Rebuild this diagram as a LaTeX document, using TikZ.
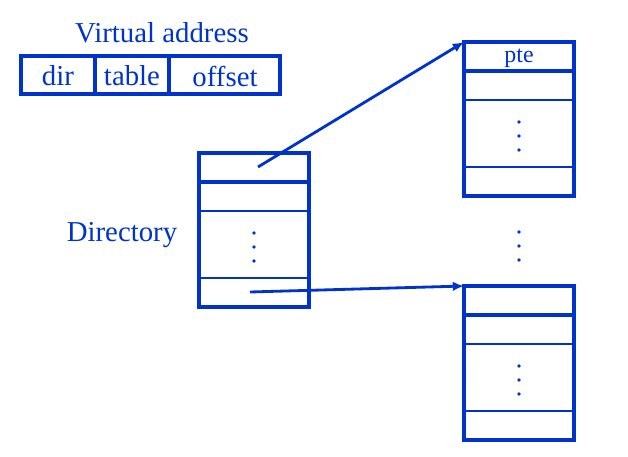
\documentclass[tikz,border=0pt]{standalone}
\usepackage{fontspec}
\setmainfont{Liberation Serif}
\usetikzlibrary{calc,arrows.meta}
\definecolor{slideblue}{RGB}{0,51,204}
\tikzset{
	boxline/.style={line width=2.8pt, draw=slideblue},
	rowline/.style={line width=1.8pt, draw=slideblue},
	txt/.style={text=slideblue, inner sep=0pt, font=\fontsize{20.5}{24}\selectfont},
	ptr/.style={line width=2pt, draw=slideblue, -{Latex[length=2.8mm,width=2.4mm]}}
}
\def\pagetable(#1,#2)#3{
	\coordinate (#3) at (#1,#2);
	\draw[boxline] (#3) rectangle ++(110,154);
	\draw[boxline] ($(#3)+(0,29)$) -- ++(110,0);
	\draw[rowline] ($(#3)+(0,58)$) -- ++(110,0);
	\draw[rowline] ($(#3)+(0,125)$) -- ++(110,0);
	\foreach \d in {80,94,108} \fill[slideblue] ($(#3)+(55,\d)$) circle (0.45mm);
}

\begin{document}
\begin{tikzpicture}[x=0.025cm,y=-0.025cm]
			%%%%% START %%%%%
			\useasboundingbox (0,0) rectangle (628,457);
			
			\node[txt] (vaddr) at (162,33) {Virtual address};
			\draw[boxline] (21,56) rectangle (280,94);
			\draw[boxline] (95,56) -- (95,94);
			\draw[boxline] (169,56) -- (169,94);
			\node[txt] (fdir) at (58,76) {dir};
			\node[txt] (ftable) at (132,76) {table};
			\node[txt] (foffset) at (225,76) {offset};
			
			\pagetable(199,153){dirtab}
			\node[txt] (dirname) at (122,235) {Directory};
			
			\pagetable(464,42){ptop}
			\node[txt, font=\fontsize{17}{20}\selectfont] (pte) at (519,58) {pte};
			
			\foreach \d in {232,246,260} \fill[slideblue] (519,\d) circle (0.45mm);
			
			\pagetable(464,286){pbot}
			
			\coordinate (dfirst) at ($(dirtab)+(59,14)$);
			\coordinate (dlast) at ($(dirtab)+(51,139)$);
			\draw[ptr] (dfirst) -- (ptop);
			\draw[ptr] (dlast) -- (pbot);
			
			%%%%% END %%%%%
\end{tikzpicture}
\end{document}
